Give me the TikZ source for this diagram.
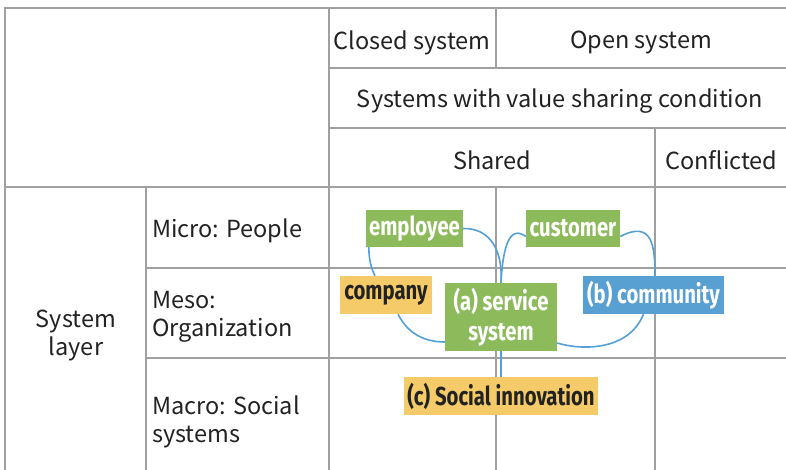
\documentclass[tikz,border=0pt]{standalone}
\usepackage{fontspec}
\setmainfont{Noto Sans CJK JP}
\newfontfamily\tagfont[FakeStretch=0.78]{Fira Sans}
\definecolor{gridgray}{RGB}{160,160,160}
\definecolor{leafgreen}{RGB}{141,187,91}
\definecolor{sunyellow}{RGB}{245,202,104}
\definecolor{skyblue}{RGB}{88,160,210}
\definecolor{linkblue}{RGB}{84,160,214}
\definecolor{inkdark}{RGB}{34,34,34}
\pgfdeclarelayer{rules}
\pgfdeclarelayer{links}
\pgfsetlayers{rules,links,main}
\tikzset{
  grid line/.style={draw=gridgray, line width=1.4bp},
  cell text/.style={font=\fontsize{23.5bp}{28bp}\selectfont, text=inkdark, inner sep=0pt, yshift=-2.5bp},
  tag/.style={font=\tagfont\bfseries\fontsize{26bp}{30bp}\selectfont, inner sep=0pt, align=center},
  green tag/.style={tag, fill=leafgreen, text=white},
  yellow tag/.style={tag, fill=sunyellow, text=inkdark},
  blue tag/.style={tag, fill=skyblue, text=white},
  link/.style={draw=linkblue, line width=1.6bp}
}
\begin{document}
\begin{tikzpicture}[x=1bp, y=-1bp]
\useasboundingbox (0,0) rectangle (786,470);

\begin{pgfonlayer}{rules}
\fill[white] (0,0) rectangle (786,470);
% table frame and rules
\draw[grid line] (5,470) -- (5,8) -- (786,8);
\draw[grid line] (329,8) -- (329,470);
\draw[grid line] (496,8) -- (496,68);
\draw[grid line] (329,68) -- (786,68);
\draw[grid line] (329,128) -- (786,128);
\draw[grid line] (655,128) -- (655,470);
\draw[grid line] (5,187) -- (786,187);
\draw[grid line] (146,187) -- (146,470);
\draw[grid line] (496,187) -- (496,470);
\draw[grid line] (146,268) -- (786,268);
\draw[grid line] (146,358) -- (786,358);
\end{pgfonlayer}

% header cells
\node[cell text] (closed) at (412,40) {Closed system};
\node[cell text] (open) at (641,40) {Open system};
\node[cell text] (sharing) at (560,99) {Systems with value sharing condition};
\node[cell text] (shared) at (492,158) {Shared};
\node[cell text, anchor=west] (conflicted) at (665,158) {Conflicted};

% row labels
\node[cell text, align=center] (layer) at (76,333) {System\\layer};
\node[cell text, anchor=west] (micro) at (152,228) {Micro: People};
\node[cell text, anchor=west, align=left] (meso) at (152,314) {Meso:\\Organization};
\node[cell text, anchor=west, align=left] (macro) at (152,419) {Macro: Social\\systems};

% tags
\node[green tag, minimum width=97bp, minimum height=37bp] (employee) at (414.5,228.5) {employee};
\node[green tag, minimum width=94bp, minimum height=37bp] (customer) at (573,228.5) {customer};
\node[yellow tag, minimum width=92bp, minimum height=38bp] (company) at (386,295) {company};
\node[green tag, minimum width=112bp, minimum height=68bp] (service) at (501,317) {(a) service\\system};
\node[blue tag, minimum width=141bp, minimum height=38bp] (community) at (653.5,295) {(b) community};
\node[yellow tag, minimum width=194bp, minimum height=38bp] (social) at (501,396) {(c) Social innovation};

% links, behind the tags
\begin{pgfonlayer}{links}
\path[link] (employee.east) .. controls (490,228) and (503,250) .. (service.north);
\path[link] ([yshift=-8bp]customer.west) .. controls (510,225) and (503,245) .. (service.north);
\path[link] ([xshift=3bp]employee.south west) .. controls (369,262) and (372,270) .. ([xshift=-11bp]company.north);
\path[link] ([xshift=12bp]company.south) .. controls (408,334) and (425,342) .. ([yshift=-25bp]service.west);
\path[link] ([yshift=-8bp]customer.east) .. controls (652,220) and (655,245) .. ([xshift=1.5bp]community.north);
\path[link] ([xshift=-10bp]community.south) .. controls (628,352) and (580,350) .. ([yshift=-26bp]service.east);
\path[link] (service.south) -- (social.north);
\end{pgfonlayer}
\end{tikzpicture}
\end{document}
